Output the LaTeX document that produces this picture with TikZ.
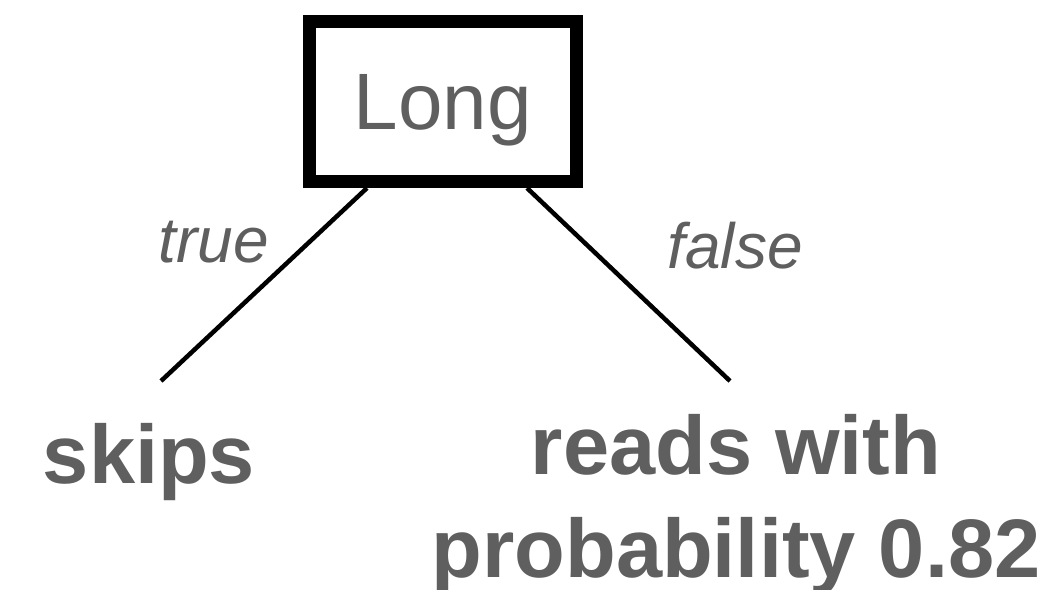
\documentclass[tikz,border=0pt]{standalone}
\usepackage{fontspec}
\setmainfont{Liberation Sans}
\usetikzlibrary{calc}
\definecolor{txtgray}{HTML}{5F5F5F}
\begin{document}
\begin{tikzpicture}[x=1pt,y=-1pt,
  decision/.style={draw=black, line width=13pt, outer sep=6.5pt, inner sep=0pt,
    minimum width=266.5pt, minimum height=160pt, text=txtgray,
    font=\fontsize{80}{80}\selectfont, text height=56pt, text depth=0pt},
  edgelbl/.style={text=txtgray, inner sep=0pt, anchor=base, font=\fontsize{64}{64}\selectfont\itshape},
  leaf/.style={text=txtgray, inner sep=0pt, anchor=base, align=center,
    font=\fontsize{83}{103}\selectfont\bfseries},
  branch/.style={line width=4.5pt, draw=black}]
\useasboundingbox (0,0) rectangle (1059,589);
\node[decision] (long) at (442.75,101.5) {Long};
\coordinate (tend) at (161,381);
\coordinate (fend) at (730,381);
\draw[branch] ($(long.south west)+(64,0)$) -- (tend);
\draw[branch] ($(long.south west)+(224,0)$) -- (fend);
\node[edgelbl] (tlbl) at (214,262) {true};
\node[edgelbl] (flbl) at (735,268) {false};
\node[leaf] (skips) at (149,483) {skips};
\node[leaf] (reads) at (736,577) {reads with\\probability 0.82};
\end{tikzpicture}
\end{document}
